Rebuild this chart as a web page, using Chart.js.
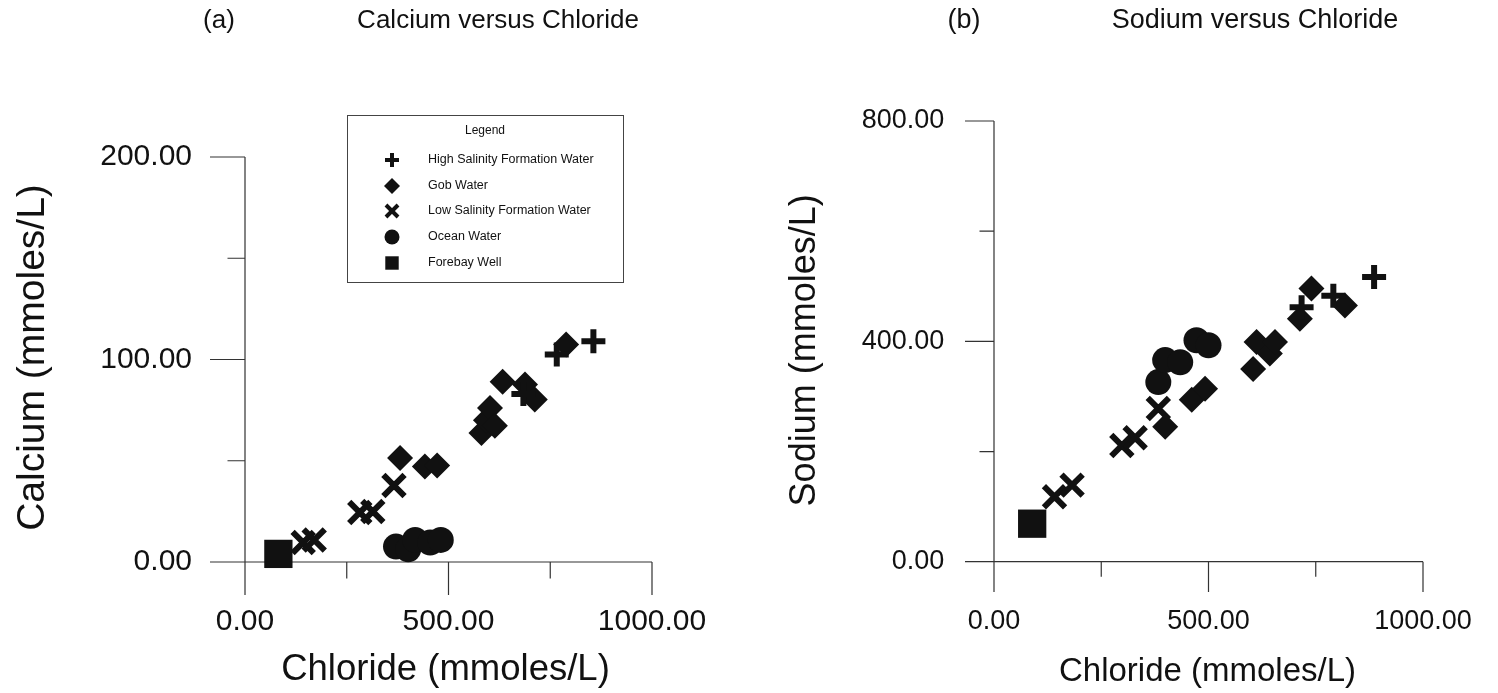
<!DOCTYPE html>
<html>
<head>
<meta charset="utf-8">
<script src="https://cdn.jsdelivr.net/npm/chart.js@4/dist/chart.umd.min.js"></script>
<style>
body { margin: 0; background: #fff; }
#wrap { position: relative; width: 1498px; height: 693px; background: #fff; }
canvas { position: absolute; top: 0; }
#chartA { left: 0; }
#chartB { left: 749px; }
</style>
</head>
<body>
<div id="wrap">
  <canvas id="chartA" width="749" height="693"></canvas>
  <canvas id="chartB" width="749" height="693"></canvas>
</div>
<script>
var FONT = "'Liberation Sans', Arial, Helvetica, sans-serif";
var INK = '#111';

var seriesNames = ['High Salinity Formation Water', 'Gob Water', 'Low Salinity Formation Water', 'Ocean Water', 'Forebay Well'];

// (a) calcium versus chloride
var caHighCl = [684, 766, 856];
var caHighCa = [83, 102.5, 109];
var caGobCl = [381, 442, 472, 581, 592, 602, 614, 633, 688, 712, 789];
var caGobCa = [51.3, 47.2, 47.7, 63.7, 70, 76, 67.3, 89, 87.6, 80.2, 107.4];
var caLowCl = [143, 170, 282, 314, 366];
var caLowCa = [9.6, 10.9, 24.4, 24.9, 37.8];
var caOceanCl = [371, 401, 418, 455, 481];
var caOceanCa = [7.6, 6.3, 10.9, 9.6, 10.9];
var caForeCl = [82];
var caForeCa = [4];

// (b) sodium versus chloride
var naHighCl = [717, 791, 886];
var naHighNa = [462, 483, 517];
var naGobCl = [399, 461, 492, 604, 612, 643, 655, 713, 740, 818];
var naGobNa = [245, 294, 314, 350, 399, 378, 399, 441, 496, 465];
var naLowCl = [141, 182, 298, 329, 383];
var naLowNa = [118, 139, 211, 225, 278];
var naOceanCl = [383, 399, 434, 472, 500];
var naOceanNa = [326, 366, 362, 402, 393];
var naForeCl = [89];
var naForeNa = [69];

// tick values (labelled ones get text, the rest are minor marks)
var clTicks = [0, 250, 500, 750, 1000];
var clLabels = [0, 500, 1000];
var caTicks = [0, 50, 100, 150, 200];
var caLabels = [0, 100, 200];
var naTicks = [0, 200, 400, 600, 800];
var naLabels = [0, 400, 800];

// marker look per series
var markStyle = ['cross', 'rectRot', 'crossRot', 'circle', 'rect'];
var markRadius = [12, 13, 15, 13, 20];
var markBorder = [6, 0, 6, 0, 0];

function pairs(xs, ys) {
    var out = [];
    for (var i = 0; i < xs.length; i++) out.push({x: xs[i], y: ys[i]});
    return out;
}

function makeSets(groups) {
    return groups.map(function (g, i) {
        return {
            label: seriesNames[i],
            data: pairs(g[0], g[1]),
            pointStyle: markStyle[i],
            pointRadius: markRadius[i],
            pointHoverRadius: markRadius[i],
            pointBorderWidth: markBorder[i],
            backgroundColor: INK,
            borderColor: INK,
            showLine: false
        };
    });
}

// axes drawn through the origin, titles and the legend box
var framePlugin = {
    id: 'frame',
    beforeDatasetsDraw: function (chart, args, o) {
        var ctx = chart.ctx, xs = chart.scales.x, ys = chart.scales.y, a = chart.chartArea;
        var x0 = xs.getPixelForValue(0), y0 = ys.getPixelForValue(0);
        var xLen = a.bottom - y0, yLen = x0 - a.left;
        ctx.save();
        ctx.strokeStyle = '#333';
        ctx.lineWidth = 1.2;
        ctx.beginPath();
        ctx.moveTo(a.left, y0);
        ctx.lineTo(xs.getPixelForValue(o.xMax), y0);
        ctx.moveTo(x0, a.bottom);
        ctx.lineTo(x0, ys.getPixelForValue(o.yMax));
        o.xTicks.forEach(function (v) {
            var px = xs.getPixelForValue(v);
            var len = o.xLabels.indexOf(v) >= 0 ? xLen : xLen / 2;
            ctx.moveTo(px, y0);
            ctx.lineTo(px, y0 + len);
        });
        o.yTicks.forEach(function (v) {
            var py = ys.getPixelForValue(v);
            var len = o.yLabels.indexOf(v) >= 0 ? yLen : yLen / 2;
            ctx.moveTo(x0, py);
            ctx.lineTo(x0 - len, py);
        });
        ctx.stroke();
        ctx.restore();
    },
    afterDraw: function (chart, args, o) {
        var ctx = chart.ctx, xs = chart.scales.x, ys = chart.scales.y;
        ctx.save();
        ctx.fillStyle = INK;
        ctx.textBaseline = 'middle';
        ctx.textAlign = 'center';
        ctx.font = o.titleSize + 'px ' + FONT;
        ctx.fillText(o.tag, o.tagX, o.titleY);
        ctx.fillText(o.title, o.titleX, o.titleY);

        // axis titles
        ctx.font = o.xTitleSize + 'px ' + FONT;
        var xc = (xs.getPixelForValue(0) + xs.getPixelForValue(o.xMax)) / 2;
        ctx.fillText(o.xTitle, xc + o.xTitleShift, o.xTitleY);
        ctx.font = o.yTitleSize + 'px ' + FONT;
        var yc = (ys.getPixelForValue(0) + ys.getPixelForValue(o.yMax)) / 2;
        ctx.translate(o.yTitleX, yc + o.yTitleShift);
        ctx.rotate(-Math.PI / 2);
        ctx.fillText(o.yTitle, 0, 0);
        ctx.restore();

        if (o.legend) drawLegend(ctx, o.legend);
    }
};

function drawLegend(ctx, L) {
    ctx.save();
    ctx.strokeStyle = '#444';
    ctx.lineWidth = 1;
    ctx.strokeRect(L.left + 0.5, L.top + 0.5, L.width, L.height);
    ctx.fillStyle = INK;
    ctx.strokeStyle = INK;
    ctx.textBaseline = 'middle';
    ctx.textAlign = 'center';
    ctx.font = '12px ' + FONT;
    ctx.fillText('Legend', L.left + L.width / 2, L.titleY);
    ctx.textAlign = 'left';
    ctx.font = '12.5px ' + FONT;
    var sizes = [7, 8, 8.5, 7.5, 9.5];
    var borders = [4, 0, 4, 0, 0];
    for (var i = 0; i < seriesNames.length; i++) {
        var y = L.rowY[i];
        ctx.lineWidth = borders[i] || 1;
        Chart.helpers.drawPoint(ctx, {
            pointStyle: markStyle[i], radius: sizes[i], rotation: 0, borderWidth: borders[i]
        }, L.markX, y);
        ctx.fillText(seriesNames[i], L.textX, y);
    }
    ctx.restore();
}

function tickFont(size) { return {family: FONT, size: size}; }

function buildChart(id, sets, cfg) {
    return new Chart(document.getElementById(id), {
        type: 'scatter',
        data: {datasets: sets},
        options: {
            responsive: false,
            animation: false,
            events: [],
            layout: {padding: {top: cfg.padTop, right: cfg.padRight, left: 0, bottom: 0}},
            scales: {
                x: {
                    type: 'linear',
                    min: cfg.xMin, max: 1000,
                    grid: {display: false, drawTicks: false},
                    border: {display: false},
                    afterBuildTicks: function (s) { s.ticks = clTicks.map(function (v) { return {value: v}; }); },
                    afterFit: function (s) { s.height = cfg.xHeight; },
                    ticks: {
                        color: INK, font: tickFont(cfg.tickSize), padding: cfg.xPad, maxRotation: 0, autoSkip: false,
                        callback: function (v) { return clLabels.indexOf(v) >= 0 ? v.toFixed(2) : ''; }
                    }
                },
                y: {
                    type: 'linear',
                    min: cfg.yMin, max: cfg.yMax,
                    grid: {display: false, drawTicks: false},
                    border: {display: false},
                    afterBuildTicks: function (s) { s.ticks = cfg.yTicks.map(function (v) { return {value: v}; }); },
                    afterFit: function (s) { s.width = cfg.yWidth; },
                    ticks: {
                        color: INK, font: tickFont(cfg.tickSize), padding: cfg.yPad, autoSkip: false,
                        callback: function (v) { return cfg.yLabels.indexOf(v) >= 0 ? v.toFixed(2) : ''; }
                    }
                }
            },
            plugins: {
                legend: {display: false},
                tooltip: {enabled: false},
                frame: cfg.frame
            }
        },
        plugins: [framePlugin]
    });
}

var chartA = buildChart('chartA', makeSets([
    [caHighCl, caHighCa], [caGobCl, caGobCa], [caLowCl, caLowCa], [caOceanCl, caOceanCa], [caForeCl, caForeCa]
]), {
    padTop: 157, padRight: 97, xMin: -86, xHeight: 98, xPad: 9,
    yMin: -16.3, yMax: 200, yWidth: 210, yPad: 18, tickSize: 30,
    yTicks: caTicks, yLabels: caLabels,
    frame: {
        xMax: 1000, yMax: 200, xTicks: clTicks, xLabels: clLabels, yTicks: caTicks, yLabels: caLabels,
        tag: '(a)', tagX: 219, title: 'Calcium versus Chloride', titleX: 498, titleY: 21, titleSize: 26,
        xTitle: 'Chloride (mmoles/L)', xTitleSize: 36.5, xTitleY: 670, xTitleShift: -3,
        yTitle: 'Calcium (mmoles/L)', yTitleSize: 39, yTitleX: 33, yTitleShift: -2,
        legend: {
            left: 347, top: 115, width: 276, height: 167, titleY: 131,
            rowY: [160, 186, 211, 237, 263], markX: 392, textX: 428
        }
    }
});

var chartB = buildChart('chartB', makeSets([
    [naHighCl, naHighNa], [naGobCl, naGobNa], [naLowCl, naLowNa], [naOceanCl, naOceanNa], [naForeCl, naForeNa]
]), {
    padTop: 121, padRight: 75, xMin: -67.6, xHeight: 101, xPad: 13.8,
    yMin: -55, yMax: 800, yWidth: 216, yPad: 20.7, tickSize: 27,
    yTicks: naTicks, yLabels: naLabels,
    frame: {
        xMax: 1000, yMax: 800, xTicks: clTicks, xLabels: clLabels, yTicks: naTicks, yLabels: naLabels,
        tag: '(b)', tagX: 215, title: 'Sodium versus Chloride', titleX: 506, titleY: 21, titleSize: 27,
        xTitle: 'Chloride (mmoles/L)', xTitleSize: 33, xTitleY: 672, xTitleShift: -1,
        yTitle: 'Sodium (mmoles/L)', yTitleSize: 36, yTitleX: 56, yTitleShift: 9
    }
});
</script>
</body>
</html>
